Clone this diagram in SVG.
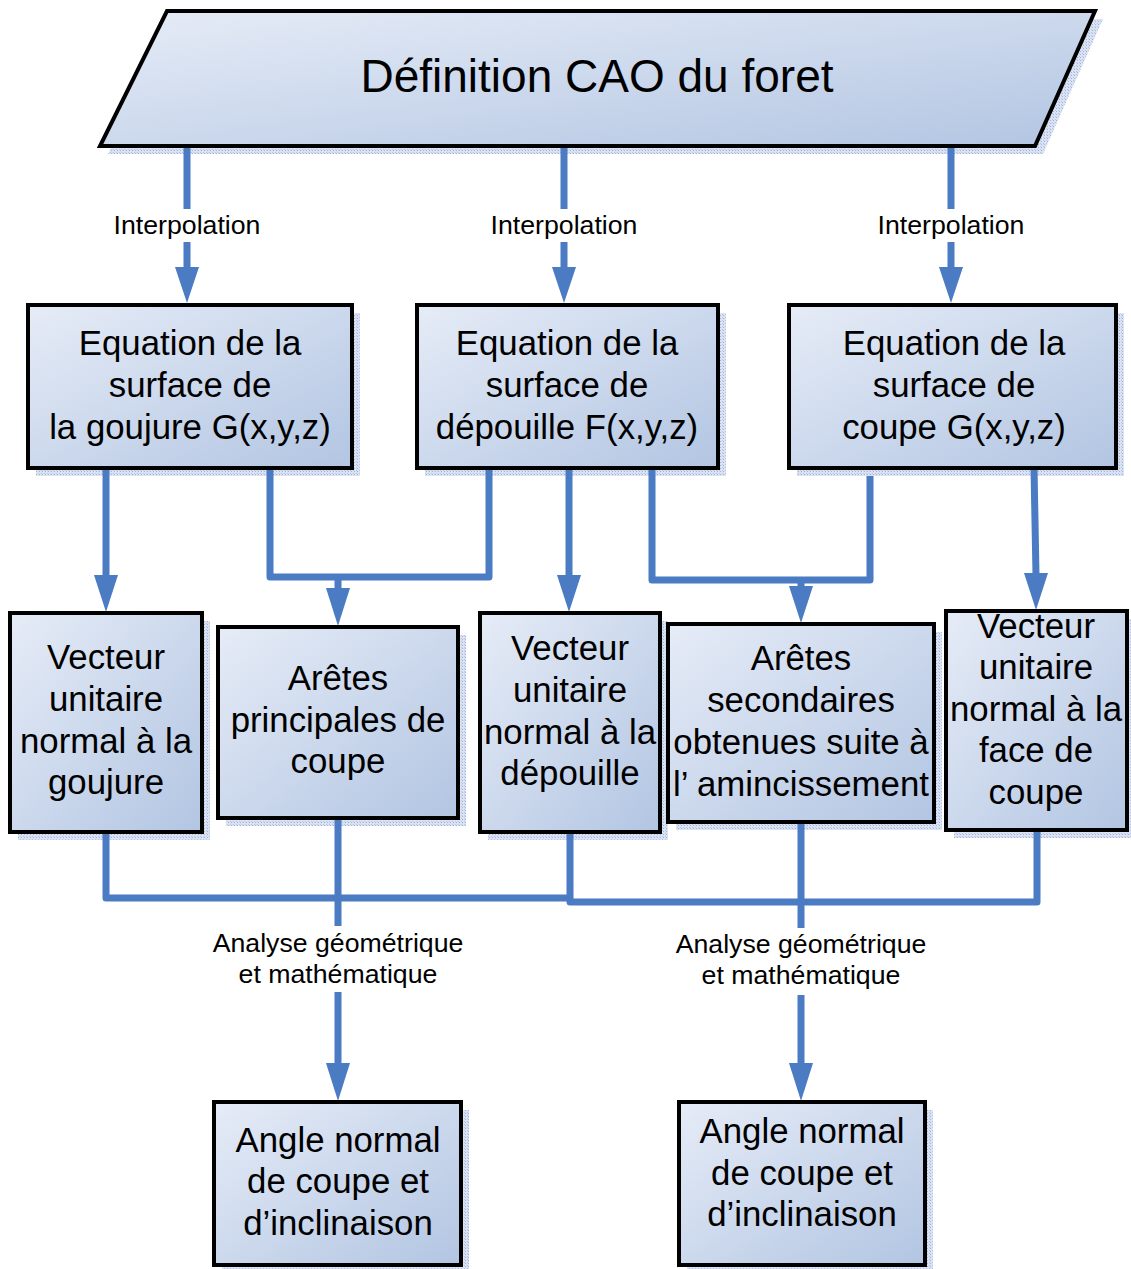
<svg xmlns="http://www.w3.org/2000/svg" width="1131" height="1269" viewBox="0 0 1131 1269">
<style>
.box{stroke:#000;stroke-width:4;fill:url(#grad)}
.sh{fill:url(#dots)}
.t{font-family:"Liberation Sans",Arial,sans-serif;font-size:34.8px;fill:#000;text-anchor:middle}
.title{font-family:"Liberation Sans",Arial,sans-serif;font-size:46px;fill:#000;text-anchor:middle}
.lbl{font-family:"Liberation Sans",Arial,sans-serif;font-size:26.7px;fill:#000;text-anchor:middle}
.c{fill:none;stroke:#4a7bc3;stroke-width:7;stroke-linejoin:round}
.ah{fill:#4a7bc3}
</style>
<defs>
<linearGradient id="grad" x1="0" y1="0" x2="1" y2="1">
<stop offset="0" stop-color="#e6ecf7"/>
<stop offset="1" stop-color="#b2c5e2"/>
</linearGradient>
<pattern id="dots" width="3" height="3" patternUnits="userSpaceOnUse">
<rect width="3" height="3" fill="#dbe3f2"/>
<rect width="1" height="1" fill="#9db3dc"/>
<rect x="2" y="2" width="1" height="1" fill="#b5c6e6"/>
</pattern>
</defs>
<g id="shadows">
<polygon class="sh" points="175,19 1103,19 1043,154 108,154"/>
<rect class="sh" x="36" y="313" width="324" height="163"/>
<rect class="sh" x="425" y="313" width="301" height="163"/>
<rect class="sh" x="797" y="313" width="327" height="163"/>
<rect class="sh" x="18" y="621" width="192" height="219"/>
<rect class="sh" x="226" y="635" width="240" height="191"/>
<rect class="sh" x="488" y="621" width="180" height="219"/>
<rect class="sh" x="676" y="632" width="266" height="198"/>
<rect class="sh" x="954" y="619" width="181" height="219"/>
<rect class="sh" x="222" y="1110" width="247" height="163"/>
<rect class="sh" x="687" y="1110" width="246" height="163"/>
</g>
<g id="connectors">
<path class="c" d="M187,146 V209 M187,242 V268"/>
<polygon class="ah" points="175,267 199,267 187,303"/>
<path class="c" d="M564,146 V209 M564,242 V268"/>
<polygon class="ah" points="552,267 576,267 564,303"/>
<path class="c" d="M951,146 V209 M951,242 V268"/>
<polygon class="ah" points="939,267 963,267 951,303"/>
<path class="c" d="M106,468 V577"/>
<polygon class="ah" points="94,575 118,575 106,612"/>
<path class="c" d="M270,468 V577 H489 V468 M338,577 V590"/>
<polygon class="ah" points="326,588 350,588 338,626"/>
<path class="c" d="M569,468 V577"/>
<polygon class="ah" points="557,575 581,575 569,612"/>
<path class="c" d="M652,468 V580 H870 V476 M801,580 V588"/>
<polygon class="ah" points="789,586 813,586 801,623"/>
<path class="c" d="M1034,468 L1036,575"/>
<polygon class="ah" points="1024,573 1048,573 1036,610"/>
<path class="c" d="M106,832 V898 H570 M570,832 V902 H1037 V828"/>
<path class="c" d="M338,818 V926 M338,992 V1065"/>
<polygon class="ah" points="326,1063 350,1063 338,1101"/>
<path class="c" d="M801,820 V928 M801,995 V1065"/>
<polygon class="ah" points="789,1063 813,1063 801,1101"/>
</g>
<g id="labels">
<text class="lbl" x="187" y="234">Interpolation</text>
<text class="lbl" x="564" y="234">Interpolation</text>
<text class="lbl" x="951" y="234">Interpolation</text>
<text class="lbl" x="338" y="952">Analyse géométrique</text>
<text class="lbl" x="338" y="983">et mathématique</text>
<text class="lbl" x="801" y="953">Analyse géométrique</text>
<text class="lbl" x="801" y="984">et mathématique</text>
</g>
<g id="node-cao">
<polygon class="box" points="167,11 1095,11 1035,146 100,146"/>
<text class="title" x="597" y="92">Définition CAO du foret</text>
</g>
<g id="node-goujure">
<rect class="box" x="28" y="305" width="324" height="163"/>
<text class="t"><tspan x="190" y="355">Equation de la</tspan><tspan x="190" y="397">surface de</tspan><tspan x="190" y="439">la goujure G(x,y,z)</tspan></text>
</g>
<g id="node-depouille">
<rect class="box" x="417" y="305" width="301" height="163"/>
<text class="t"><tspan x="567" y="355">Equation de la</tspan><tspan x="567" y="397">surface de</tspan><tspan x="567" y="439">dépouille F(x,y,z)</tspan></text>
</g>
<g id="node-coupe">
<rect class="box" x="789" y="305" width="327" height="163"/>
<text class="t"><tspan x="954" y="355">Equation de la</tspan><tspan x="954" y="397">surface de</tspan><tspan x="954" y="439">coupe G(x,y,z)</tspan></text>
</g>
<g id="node-vec-goujure">
<rect class="box" x="10" y="613" width="192" height="219"/>
<text class="t"><tspan x="106" y="669">Vecteur</tspan><tspan x="106" y="711">unitaire</tspan><tspan x="106" y="753">normal à la</tspan><tspan x="106" y="794">goujure</tspan></text>
</g>
<g id="node-aretes-princ">
<rect class="box" x="218" y="627" width="240" height="191"/>
<text class="t"><tspan x="338" y="690">Arêtes</tspan><tspan x="338" y="732">principales de</tspan><tspan x="338" y="773">coupe</tspan></text>
</g>
<g id="node-vec-depouille">
<rect class="box" x="480" y="613" width="180" height="219"/>
<text class="t"><tspan x="570" y="660">Vecteur</tspan><tspan x="570" y="702">unitaire</tspan><tspan x="570" y="744">normal à la</tspan><tspan x="570" y="785">dépouille</tspan></text>
</g>
<g id="node-aretes-sec">
<rect class="box" x="668" y="624" width="266" height="198"/>
<text class="t"><tspan x="801" y="670">Arêtes</tspan><tspan x="801" y="712">secondaires</tspan><tspan x="801" y="754">obtenues suite à</tspan><tspan x="801" y="796">l’ amincissement</tspan></text>
</g>
<g id="node-vec-coupe">
<rect class="box" x="946" y="611" width="181" height="219"/>
<text class="t"><tspan x="1036" y="638">Vecteur</tspan><tspan x="1036" y="679">unitaire</tspan><tspan x="1036" y="721">normal à la</tspan><tspan x="1036" y="762">face de</tspan><tspan x="1036" y="804">coupe</tspan></text>
</g>
<g id="node-angle-1">
<rect class="box" x="214" y="1102" width="247" height="163"/>
<text class="t"><tspan x="338" y="1152">Angle normal</tspan><tspan x="338" y="1193">de coupe et</tspan><tspan x="338" y="1235">d’inclinaison</tspan></text>
</g>
<g id="node-angle-2">
<rect class="box" x="679" y="1102" width="246" height="163"/>
<text class="t"><tspan x="802" y="1143">Angle normal</tspan><tspan x="802" y="1185">de coupe et</tspan><tspan x="802" y="1226">d’inclinaison</tspan></text>
</g>
</svg>
